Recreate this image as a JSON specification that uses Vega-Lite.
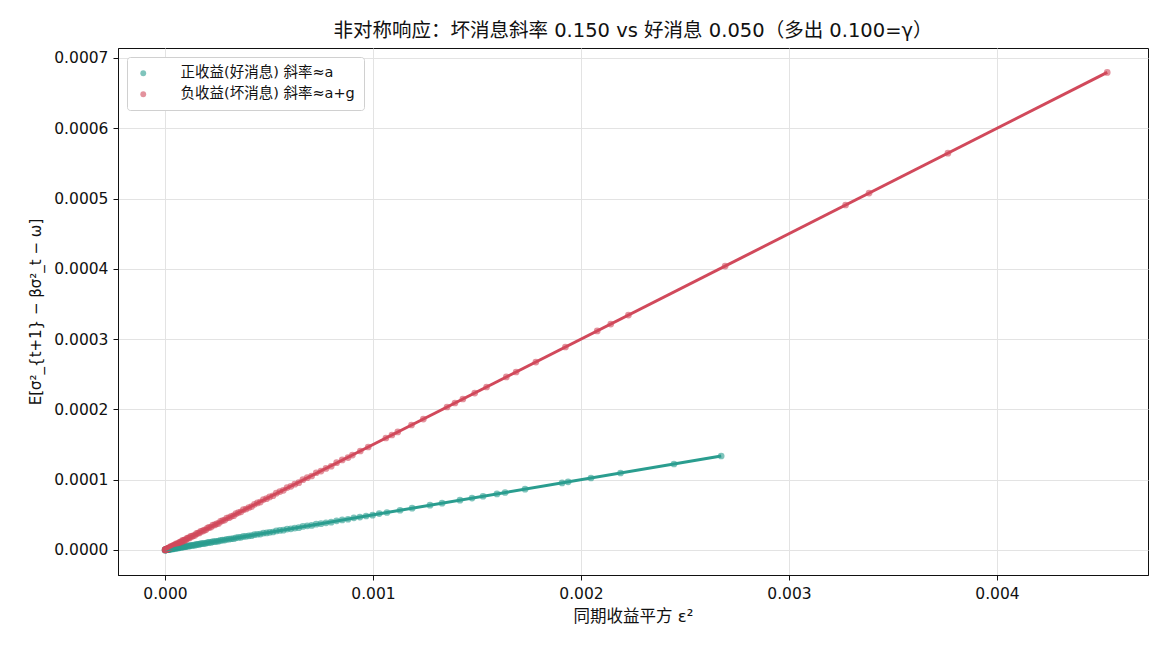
{
  "$schema": "https://vega.github.io/schema/vega-lite/v6.json",
  "autosize": {"type": "none"},
  "padding": {"left": 118, "top": 48, "right": 22, "bottom": 75},
  "width": 1030,
  "height": 527,
  "background": "white",
  "title": {"text": "非对称响应：坏消息斜率 0.150 vs 好消息 0.050（多出 0.100=γ）", "fontSize": 19.5, "fontWeight": "normal", "font": "DejaVu Sans, Noto Sans CJK SC", "color": "#111", "offset": 7, "anchor": "middle"},
  "config": {
    "font": "DejaVu Sans, Noto Sans CJK SC",
    "view": {"stroke": "#111", "strokeWidth": 1},
    "axis": {"labelFontSize": 15.5, "titleFontSize": 15, "titleFontWeight": "normal", "labelColor": "#111", "titleColor": "#111", "domainColor": "#111", "tickColor": "#111", "tickSize": 5, "gridColor": "#e3e3e3", "gridWidth": 1, "labelFont": "DejaVu Sans, Noto Sans CJK SC", "titleFont": "DejaVu Sans, Noto Sans CJK SC"}
  },
  "datasets": {
    "pts": [
      {"type": "正收益(好消息) 斜率≈a", "x": 0.000000, "y": 0.00000000},
      {"type": "正收益(好消息) 斜率≈a", "x": 0.000001, "y": 0.00000005},
      {"type": "正收益(好消息) 斜率≈a", "x": 0.000002, "y": 0.00000010},
      {"type": "正收益(好消息) 斜率≈a", "x": 0.000003, "y": 0.00000015},
      {"type": "正收益(好消息) 斜率≈a", "x": 0.000004, "y": 0.00000020},
      {"type": "正收益(好消息) 斜率≈a", "x": 0.000005, "y": 0.00000025},
      {"type": "正收益(好消息) 斜率≈a", "x": 0.000006, "y": 0.00000030},
      {"type": "正收益(好消息) 斜率≈a", "x": 0.000008, "y": 0.00000040},
      {"type": "正收益(好消息) 斜率≈a", "x": 0.000010, "y": 0.00000050},
      {"type": "正收益(好消息) 斜率≈a", "x": 0.000012, "y": 0.00000060},
      {"type": "正收益(好消息) 斜率≈a", "x": 0.000014, "y": 0.00000070},
      {"type": "正收益(好消息) 斜率≈a", "x": 0.000016, "y": 0.00000080},
      {"type": "正收益(好消息) 斜率≈a", "x": 0.000018, "y": 0.00000090},
      {"type": "正收益(好消息) 斜率≈a", "x": 0.000020, "y": 0.00000100},
      {"type": "正收益(好消息) 斜率≈a", "x": 0.000023, "y": 0.00000135},
      {"type": "正收益(好消息) 斜率≈a", "x": 0.000026, "y": 0.00000100},
      {"type": "正收益(好消息) 斜率≈a", "x": 0.000029, "y": 0.00000185},
      {"type": "正收益(好消息) 斜率≈a", "x": 0.000032, "y": 0.00000150},
      {"type": "正收益(好消息) 斜率≈a", "x": 0.000035, "y": 0.00000175},
      {"type": "正收益(好消息) 斜率≈a", "x": 0.000038, "y": 0.00000150},
      {"type": "正收益(好消息) 斜率≈a", "x": 0.000041, "y": 0.00000235},
      {"type": "正收益(好消息) 斜率≈a", "x": 0.000045, "y": 0.00000245},
      {"type": "正收益(好消息) 斜率≈a", "x": 0.000049, "y": 0.00000215},
      {"type": "正收益(好消息) 斜率≈a", "x": 0.000053, "y": 0.00000305},
      {"type": "正收益(好消息) 斜率≈a", "x": 0.000057, "y": 0.00000275},
      {"type": "正收益(好消息) 斜率≈a", "x": 0.000061, "y": 0.00000305},
      {"type": "正收益(好消息) 斜率≈a", "x": 0.000065, "y": 0.00000285},
      {"type": "正收益(好消息) 斜率≈a", "x": 0.000070, "y": 0.00000380},
      {"type": "正收益(好消息) 斜率≈a", "x": 0.000075, "y": 0.00000395},
      {"type": "正收益(好消息) 斜率≈a", "x": 0.000080, "y": 0.00000370},
      {"type": "正收益(好消息) 斜率≈a", "x": 0.000085, "y": 0.00000465},
      {"type": "正收益(好消息) 斜率≈a", "x": 0.000090, "y": 0.00000440},
      {"type": "正收益(好消息) 斜率≈a", "x": 0.000095, "y": 0.00000475},
      {"type": "正收益(好消息) 斜率≈a", "x": 0.000100, "y": 0.00000460},
      {"type": "正收益(好消息) 斜率≈a", "x": 0.000106, "y": 0.00000560},
      {"type": "正收益(好消息) 斜率≈a", "x": 0.000112, "y": 0.00000580},
      {"type": "正收益(好消息) 斜率≈a", "x": 0.000118, "y": 0.00000560},
      {"type": "正收益(好消息) 斜率≈a", "x": 0.000124, "y": 0.00000660},
      {"type": "正收益(好消息) 斜率≈a", "x": 0.000130, "y": 0.00000640},
      {"type": "正收益(好消息) 斜率≈a", "x": 0.000137, "y": 0.00000685},
      {"type": "正收益(好消息) 斜率≈a", "x": 0.000144, "y": 0.00000680},
      {"type": "正收益(好消息) 斜率≈a", "x": 0.000151, "y": 0.00000785},
      {"type": "正收益(好消息) 斜率≈a", "x": 0.000158, "y": 0.00000810},
      {"type": "正收益(好消息) 斜率≈a", "x": 0.000165, "y": 0.00000795},
      {"type": "正收益(好消息) 斜率≈a", "x": 0.000172, "y": 0.00000900},
      {"type": "正收益(好消息) 斜率≈a", "x": 0.000180, "y": 0.00000890},
      {"type": "正收益(好消息) 斜率≈a", "x": 0.000188, "y": 0.00000940},
      {"type": "正收益(好消息) 斜率≈a", "x": 0.000196, "y": 0.00000940},
      {"type": "正收益(好消息) 斜率≈a", "x": 0.000204, "y": 0.00001050},
      {"type": "正收益(好消息) 斜率≈a", "x": 0.000212, "y": 0.00001080},
      {"type": "正收益(好消息) 斜率≈a", "x": 0.000221, "y": 0.00001075},
      {"type": "正收益(好消息) 斜率≈a", "x": 0.000230, "y": 0.00001190},
      {"type": "正收益(好消息) 斜率≈a", "x": 0.000239, "y": 0.00001185},
      {"type": "正收益(好消息) 斜率≈a", "x": 0.000248, "y": 0.00001240},
      {"type": "正收益(好消息) 斜率≈a", "x": 0.000257, "y": 0.00001245},
      {"type": "正收益(好消息) 斜率≈a", "x": 0.000267, "y": 0.00001365},
      {"type": "正收益(好消息) 斜率≈a", "x": 0.000277, "y": 0.00001405},
      {"type": "正收益(好消息) 斜率≈a", "x": 0.000287, "y": 0.00001405},
      {"type": "正收益(好消息) 斜率≈a", "x": 0.000297, "y": 0.00001525},
      {"type": "正收益(好消息) 斜率≈a", "x": 0.000308, "y": 0.00001530},
      {"type": "正收益(好消息) 斜率≈a", "x": 0.000319, "y": 0.00001595},
      {"type": "正收益(好消息) 斜率≈a", "x": 0.000330, "y": 0.00001610},
      {"type": "正收益(好消息) 斜率≈a", "x": 0.000341, "y": 0.00001735},
      {"type": "正收益(好消息) 斜率≈a", "x": 0.000353, "y": 0.00001785},
      {"type": "正收益(好消息) 斜率≈a", "x": 0.000365, "y": 0.00001795},
      {"type": "正收益(好消息) 斜率≈a", "x": 0.000377, "y": 0.00001925},
      {"type": "正收益(好消息) 斜率≈a", "x": 0.000390, "y": 0.00001940},
      {"type": "正收益(好消息) 斜率≈a", "x": 0.000403, "y": 0.00002015},
      {"type": "正收益(好消息) 斜率≈a", "x": 0.000416, "y": 0.00002040},
      {"type": "正收益(好消息) 斜率≈a", "x": 0.000430, "y": 0.00002180},
      {"type": "正收益(好消息) 斜率≈a", "x": 0.000444, "y": 0.00002240},
      {"type": "正收益(好消息) 斜率≈a", "x": 0.000458, "y": 0.00002260},
      {"type": "正收益(好消息) 斜率≈a", "x": 0.000473, "y": 0.00002405},
      {"type": "正收益(好消息) 斜率≈a", "x": 0.000488, "y": 0.00002430},
      {"type": "正收益(好消息) 斜率≈a", "x": 0.000503, "y": 0.00002515},
      {"type": "正收益(好消息) 斜率≈a", "x": 0.000519, "y": 0.00002555},
      {"type": "正收益(好消息) 斜率≈a", "x": 0.000535, "y": 0.00002705},
      {"type": "正收益(好消息) 斜率≈a", "x": 0.000552, "y": 0.00002780},
      {"type": "正收益(好消息) 斜率≈a", "x": 0.000569, "y": 0.00002815},
      {"type": "正收益(好消息) 斜率≈a", "x": 0.000587, "y": 0.00002975},
      {"type": "正收益(好消息) 斜率≈a", "x": 0.000605, "y": 0.00003015},
      {"type": "正收益(好消息) 斜率≈a", "x": 0.000624, "y": 0.00003120},
      {"type": "正收益(好消息) 斜率≈a", "x": 0.000643, "y": 0.00003175},
      {"type": "正收益(好消息) 斜率≈a", "x": 0.000663, "y": 0.00003345},
      {"type": "正收益(好消息) 斜率≈a", "x": 0.000684, "y": 0.00003440},
      {"type": "正收益(好消息) 斜率≈a", "x": 0.000705, "y": 0.00003495},
      {"type": "正收益(好消息) 斜率≈a", "x": 0.000727, "y": 0.00003675},
      {"type": "正收益(好消息) 斜率≈a", "x": 0.000750, "y": 0.00003740},
      {"type": "正收益(好消息) 斜率≈a", "x": 0.000774, "y": 0.00003870},
      {"type": "正收益(好消息) 斜率≈a", "x": 0.000799, "y": 0.00003955},
      {"type": "正收益(好消息) 斜率≈a", "x": 0.000825, "y": 0.00004155},
      {"type": "正收益(好消息) 斜率≈a", "x": 0.000852, "y": 0.00004280},
      {"type": "正收益(好消息) 斜率≈a", "x": 0.000880, "y": 0.00004370},
      {"type": "正收益(好消息) 斜率≈a", "x": 0.000908, "y": 0.00004580},
      {"type": "正收益(好消息) 斜率≈a", "x": 0.000937, "y": 0.00004675},
      {"type": "正收益(好消息) 斜率≈a", "x": 0.000967, "y": 0.00004835},
      {"type": "正收益(好消息) 斜率≈a", "x": 0.000998, "y": 0.00004950},
      {"type": "正收益(好消息) 斜率≈a", "x": 0.001030, "y": 0.00005180},
      {"type": "正收益(好消息) 斜率≈a", "x": 0.001067, "y": 0.00005335},
      {"type": "正收益(好消息) 斜率≈a", "x": 0.001130, "y": 0.00005650},
      {"type": "正收益(好消息) 斜率≈a", "x": 0.001188, "y": 0.00005940},
      {"type": "正收益(好消息) 斜率≈a", "x": 0.001274, "y": 0.00006370},
      {"type": "正收益(好消息) 斜率≈a", "x": 0.001332, "y": 0.00006660},
      {"type": "正收益(好消息) 斜率≈a", "x": 0.001418, "y": 0.00007090},
      {"type": "正收益(好消息) 斜率≈a", "x": 0.001476, "y": 0.00007380},
      {"type": "正收益(好消息) 斜率≈a", "x": 0.001529, "y": 0.00007645},
      {"type": "正收益(好消息) 斜率≈a", "x": 0.001596, "y": 0.00007980},
      {"type": "正收益(好消息) 斜率≈a", "x": 0.001635, "y": 0.00008175},
      {"type": "正收益(好消息) 斜率≈a", "x": 0.001731, "y": 0.00008655},
      {"type": "正收益(好消息) 斜率≈a", "x": 0.001909, "y": 0.00009545},
      {"type": "正收益(好消息) 斜率≈a", "x": 0.001938, "y": 0.00009690},
      {"type": "正收益(好消息) 斜率≈a", "x": 0.002048, "y": 0.00010240},
      {"type": "正收益(好消息) 斜率≈a", "x": 0.002190, "y": 0.00010950},
      {"type": "正收益(好消息) 斜率≈a", "x": 0.002447, "y": 0.00012235},
      {"type": "正收益(好消息) 斜率≈a", "x": 0.002674, "y": 0.00013370},
      {"type": "负收益(坏消息) 斜率≈a+g", "x": 0.000000, "y": 0.00000000},
      {"type": "负收益(坏消息) 斜率≈a+g", "x": 0.000001, "y": 0.00000015},
      {"type": "负收益(坏消息) 斜率≈a+g", "x": 0.000002, "y": 0.00000030},
      {"type": "负收益(坏消息) 斜率≈a+g", "x": 0.000003, "y": 0.00000045},
      {"type": "负收益(坏消息) 斜率≈a+g", "x": 0.000004, "y": 0.00000060},
      {"type": "负收益(坏消息) 斜率≈a+g", "x": 0.000005, "y": 0.00000075},
      {"type": "负收益(坏消息) 斜率≈a+g", "x": 0.000006, "y": 0.00000090},
      {"type": "负收益(坏消息) 斜率≈a+g", "x": 0.000008, "y": 0.00000120},
      {"type": "负收益(坏消息) 斜率≈a+g", "x": 0.000010, "y": 0.00000150},
      {"type": "负收益(坏消息) 斜率≈a+g", "x": 0.000012, "y": 0.00000180},
      {"type": "负收益(坏消息) 斜率≈a+g", "x": 0.000014, "y": 0.00000210},
      {"type": "负收益(坏消息) 斜率≈a+g", "x": 0.000016, "y": 0.00000240},
      {"type": "负收益(坏消息) 斜率≈a+g", "x": 0.000018, "y": 0.00000270},
      {"type": "负收益(坏消息) 斜率≈a+g", "x": 0.000020, "y": 0.00000300},
      {"type": "负收益(坏消息) 斜率≈a+g", "x": 0.000023, "y": 0.00000375},
      {"type": "负收益(坏消息) 斜率≈a+g", "x": 0.000026, "y": 0.00000340},
      {"type": "负收益(坏消息) 斜率≈a+g", "x": 0.000029, "y": 0.00000515},
      {"type": "负收益(坏消息) 斜率≈a+g", "x": 0.000032, "y": 0.00000460},
      {"type": "负收益(坏消息) 斜率≈a+g", "x": 0.000035, "y": 0.00000525},
      {"type": "负收益(坏消息) 斜率≈a+g", "x": 0.000038, "y": 0.00000500},
      {"type": "负收益(坏消息) 斜率≈a+g", "x": 0.000041, "y": 0.00000665},
      {"type": "负收益(坏消息) 斜率≈a+g", "x": 0.000045, "y": 0.00000705},
      {"type": "负收益(坏消息) 斜率≈a+g", "x": 0.000049, "y": 0.00000685},
      {"type": "负收益(坏消息) 斜率≈a+g", "x": 0.000053, "y": 0.00000875},
      {"type": "负收益(坏消息) 斜率≈a+g", "x": 0.000057, "y": 0.00000835},
      {"type": "负收益(坏消息) 斜率≈a+g", "x": 0.000061, "y": 0.00000915},
      {"type": "负收益(坏消息) 斜率≈a+g", "x": 0.000065, "y": 0.00000905},
      {"type": "负收益(坏消息) 斜率≈a+g", "x": 0.000070, "y": 0.00001100},
      {"type": "负收益(坏消息) 斜率≈a+g", "x": 0.000075, "y": 0.00001155},
      {"type": "负收益(坏消息) 斜率≈a+g", "x": 0.000080, "y": 0.00001150},
      {"type": "负收益(坏消息) 斜率≈a+g", "x": 0.000085, "y": 0.00001355},
      {"type": "负收益(坏消息) 斜率≈a+g", "x": 0.000090, "y": 0.00001330},
      {"type": "负收益(坏消息) 斜率≈a+g", "x": 0.000095, "y": 0.00001425},
      {"type": "负收益(坏消息) 斜率≈a+g", "x": 0.000100, "y": 0.00001430},
      {"type": "负收益(坏消息) 斜率≈a+g", "x": 0.000106, "y": 0.00001640},
      {"type": "负收益(坏消息) 斜率≈a+g", "x": 0.000112, "y": 0.00001710},
      {"type": "负收益(坏消息) 斜率≈a+g", "x": 0.000118, "y": 0.00001720},
      {"type": "负收益(坏消息) 斜率≈a+g", "x": 0.000124, "y": 0.00001940},
      {"type": "负收益(坏消息) 斜率≈a+g", "x": 0.000130, "y": 0.00001930},
      {"type": "负收益(坏消息) 斜率≈a+g", "x": 0.000137, "y": 0.00002055},
      {"type": "负收益(坏消息) 斜率≈a+g", "x": 0.000144, "y": 0.00002090},
      {"type": "负收益(坏消息) 斜率≈a+g", "x": 0.000151, "y": 0.00002315},
      {"type": "负收益(坏消息) 斜率≈a+g", "x": 0.000158, "y": 0.00002400},
      {"type": "负收益(坏消息) 斜率≈a+g", "x": 0.000165, "y": 0.00002425},
      {"type": "负收益(坏消息) 斜率≈a+g", "x": 0.000172, "y": 0.00002660},
      {"type": "负收益(坏消息) 斜率≈a+g", "x": 0.000180, "y": 0.00002680},
      {"type": "负收益(坏消息) 斜率≈a+g", "x": 0.000188, "y": 0.00002820},
      {"type": "负收益(坏消息) 斜率≈a+g", "x": 0.000196, "y": 0.00002870},
      {"type": "负收益(坏消息) 斜率≈a+g", "x": 0.000204, "y": 0.00003110},
      {"type": "负收益(坏消息) 斜率≈a+g", "x": 0.000212, "y": 0.00003210},
      {"type": "负收益(坏消息) 斜率≈a+g", "x": 0.000221, "y": 0.00003265},
      {"type": "负收益(坏消息) 斜率≈a+g", "x": 0.000230, "y": 0.00003530},
      {"type": "负收益(坏消息) 斜率≈a+g", "x": 0.000239, "y": 0.00003565},
      {"type": "负收益(坏消息) 斜率≈a+g", "x": 0.000248, "y": 0.00003720},
      {"type": "负收益(坏消息) 斜率≈a+g", "x": 0.000257, "y": 0.00003785},
      {"type": "负收益(坏消息) 斜率≈a+g", "x": 0.000267, "y": 0.00004055},
      {"type": "负收益(坏消息) 斜率≈a+g", "x": 0.000277, "y": 0.00004185},
      {"type": "负收益(坏消息) 斜率≈a+g", "x": 0.000287, "y": 0.00004255},
      {"type": "负收益(坏消息) 斜率≈a+g", "x": 0.000297, "y": 0.00004535},
      {"type": "负收益(坏消息) 斜率≈a+g", "x": 0.000308, "y": 0.00004600},
      {"type": "负收益(坏消息) 斜率≈a+g", "x": 0.000319, "y": 0.00004785},
      {"type": "负收益(坏消息) 斜率≈a+g", "x": 0.000330, "y": 0.00004880},
      {"type": "负收益(坏消息) 斜率≈a+g", "x": 0.000341, "y": 0.00005165},
      {"type": "负收益(坏消息) 斜率≈a+g", "x": 0.000353, "y": 0.00005325},
      {"type": "负收益(坏消息) 斜率≈a+g", "x": 0.000365, "y": 0.00005425},
      {"type": "负收益(坏消息) 斜率≈a+g", "x": 0.000377, "y": 0.00005735},
      {"type": "负收益(坏消息) 斜率≈a+g", "x": 0.000390, "y": 0.00005830},
      {"type": "负收益(坏消息) 斜率≈a+g", "x": 0.000403, "y": 0.00006045},
      {"type": "负收益(坏消息) 斜率≈a+g", "x": 0.000416, "y": 0.00006170},
      {"type": "负收益(坏消息) 斜率≈a+g", "x": 0.000430, "y": 0.00006500},
      {"type": "负收益(坏消息) 斜率≈a+g", "x": 0.000444, "y": 0.00006690},
      {"type": "负收益(坏消息) 斜率≈a+g", "x": 0.000458, "y": 0.00006820},
      {"type": "负收益(坏消息) 斜率≈a+g", "x": 0.000473, "y": 0.00007175},
      {"type": "负收益(坏消息) 斜率≈a+g", "x": 0.000488, "y": 0.00007300},
      {"type": "负收益(坏消息) 斜率≈a+g", "x": 0.000503, "y": 0.00007545},
      {"type": "负收益(坏消息) 斜率≈a+g", "x": 0.000519, "y": 0.00007715},
      {"type": "负收益(坏消息) 斜率≈a+g", "x": 0.000535, "y": 0.00008075},
      {"type": "负收益(坏消息) 斜率≈a+g", "x": 0.000552, "y": 0.00008310},
      {"type": "负收益(坏消息) 斜率≈a+g", "x": 0.000569, "y": 0.00008485},
      {"type": "负收益(坏消息) 斜率≈a+g", "x": 0.000587, "y": 0.00008885},
      {"type": "负收益(坏消息) 斜率≈a+g", "x": 0.000605, "y": 0.00009055},
      {"type": "负收益(坏消息) 斜率≈a+g", "x": 0.000624, "y": 0.00009360},
      {"type": "负收益(坏消息) 斜率≈a+g", "x": 0.000643, "y": 0.00009575},
      {"type": "负收益(坏消息) 斜率≈a+g", "x": 0.000663, "y": 0.00009995},
      {"type": "负收益(坏消息) 斜率≈a+g", "x": 0.000684, "y": 0.00010290},
      {"type": "负收益(坏消息) 斜率≈a+g", "x": 0.000705, "y": 0.00010525},
      {"type": "负收益(坏消息) 斜率≈a+g", "x": 0.000727, "y": 0.00010985},
      {"type": "负收益(坏消息) 斜率≈a+g", "x": 0.000750, "y": 0.00011230},
      {"type": "负收益(坏消息) 斜率≈a+g", "x": 0.000774, "y": 0.00011610},
      {"type": "负收益(坏消息) 斜率≈a+g", "x": 0.000799, "y": 0.00011915},
      {"type": "负收益(坏消息) 斜率≈a+g", "x": 0.000825, "y": 0.00012425},
      {"type": "负收益(坏消息) 斜率≈a+g", "x": 0.000852, "y": 0.00012810},
      {"type": "负收益(坏消息) 斜率≈a+g", "x": 0.000880, "y": 0.00013150},
      {"type": "负收益(坏消息) 斜率≈a+g", "x": 0.000901, "y": 0.00013510},
      {"type": "负收益(坏消息) 斜率≈a+g", "x": 0.000939, "y": 0.00014080},
      {"type": "负收益(坏消息) 斜率≈a+g", "x": 0.000977, "y": 0.00014650},
      {"type": "负收益(坏消息) 斜率≈a+g", "x": 0.001062, "y": 0.00015930},
      {"type": "负收益(坏消息) 斜率≈a+g", "x": 0.001091, "y": 0.00016360},
      {"type": "负收益(坏消息) 斜率≈a+g", "x": 0.001119, "y": 0.00016790},
      {"type": "负收益(坏消息) 斜率≈a+g", "x": 0.001185, "y": 0.00017780},
      {"type": "负收益(坏消息) 斜率≈a+g", "x": 0.001242, "y": 0.00018630},
      {"type": "负收益(坏消息) 斜率≈a+g", "x": 0.001356, "y": 0.00020340},
      {"type": "负收益(坏消息) 斜率≈a+g", "x": 0.001394, "y": 0.00020910},
      {"type": "负收益(坏消息) 斜率≈a+g", "x": 0.001432, "y": 0.00021480},
      {"type": "负收益(坏消息) 斜率≈a+g", "x": 0.001489, "y": 0.00022330},
      {"type": "负收益(坏消息) 斜率≈a+g", "x": 0.001546, "y": 0.00023190},
      {"type": "负收益(坏消息) 斜率≈a+g", "x": 0.001641, "y": 0.00024620},
      {"type": "负收益(坏消息) 斜率≈a+g", "x": 0.001688, "y": 0.00025320},
      {"type": "负收益(坏消息) 斜率≈a+g", "x": 0.001783, "y": 0.00026740},
      {"type": "负收益(坏消息) 斜率≈a+g", "x": 0.001925, "y": 0.00028880},
      {"type": "负收益(坏消息) 斜率≈a+g", "x": 0.002078, "y": 0.00031170},
      {"type": "负收益(坏消息) 斜率≈a+g", "x": 0.002143, "y": 0.00032140},
      {"type": "负收益(坏消息) 斜率≈a+g", "x": 0.002228, "y": 0.00033420},
      {"type": "负收益(坏消息) 斜率≈a+g", "x": 0.002693, "y": 0.00040400},
      {"type": "负收益(坏消息) 斜率≈a+g", "x": 0.003272, "y": 0.00049080},
      {"type": "负收益(坏消息) 斜率≈a+g", "x": 0.003385, "y": 0.00050780},
      {"type": "负收益(坏消息) 斜率≈a+g", "x": 0.003764, "y": 0.00056460},
      {"type": "负收益(坏消息) 斜率≈a+g", "x": 0.004530, "y": 0.00067950}
    ],
    "fitGood": [
      {"x": 0.0, "y": 0.0},
      {"x": 0.002674, "y": 0.0001337}
    ],
    "fitBad": [
      {"x": 0.0, "y": 0.0},
      {"x": 0.004530, "y": 0.0006795}
    ]
  },
  "layer": [
    {
      "data": {"name": "pts"},
      "mark": {"type": "point", "filled": true, "size": 45, "opacity": 0.6, "strokeWidth": 0},
      "encoding": {
        "x": {"field": "x", "type": "quantitative", "scale": {"domain": [-0.000226, 0.004726], "nice": false, "zero": false}, "axis": {"title": "同期收益平方 ε²", "titleFontSize": 16.5, "format": ".3f", "values": [0, 0.001, 0.002, 0.003, 0.004], "grid": true, "labelPadding": 6, "titlePadding": 7}},
        "y": {"field": "y", "type": "quantitative", "scale": {"domain": [-0.0000356, 0.0007142], "nice": false, "zero": false}, "axis": {"title": "E[σ²_{t+1} − βσ²_t − ω]", "format": ".4f", "values": [0, 0.0001, 0.0002, 0.0003, 0.0004, 0.0005, 0.0006, 0.0007], "grid": true, "labelPadding": 5, "titlePadding": 10}},
        "color": {"field": "type", "type": "nominal", "scale": {"domain": ["正收益(好消息) 斜率≈a", "负收益(坏消息) 斜率≈a+g"], "range": ["#2a9d8f", "#d1495b"]},
          "legend": {"title": null, "orient": "top-left", "offset": 9, "padding": 9, "fillColor": "white", "strokeColor": "#d0d0d0", "cornerRadius": 3, "labelFontSize": 14.5, "labelLimit": 500, "labelFont": "DejaVu Sans, Noto Sans CJK SC", "labelColor": "#111", "symbolSize": 34, "symbolOpacity": 0.6, "symbolType": "circle", "labelOffset": 30, "rowPadding": 6, "symbolStrokeWidth": 0}},
        "order": {"field": "type", "type": "nominal"}
      }
    },
    {
      "data": {"name": "fitGood"},
      "mark": {"type": "line", "color": "#2a9d8f", "strokeWidth": 3},
      "encoding": {"x": {"field": "x", "type": "quantitative"}, "y": {"field": "y", "type": "quantitative"}}
    },
    {
      "data": {"name": "fitBad"},
      "mark": {"type": "line", "color": "#d1495b", "strokeWidth": 3},
      "encoding": {"x": {"field": "x", "type": "quantitative"}, "y": {"field": "y", "type": "quantitative"}}
    }
  ]
}
